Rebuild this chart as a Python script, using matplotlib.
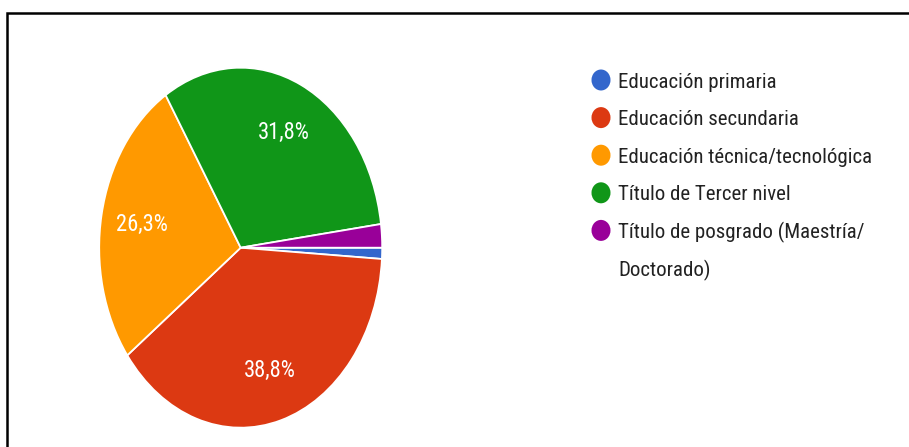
import matplotlib
matplotlib.use("Agg")
import matplotlib.pyplot as plt
from matplotlib import font_manager
from matplotlib.lines import Line2D
from matplotlib.patches import Ellipse

# ---- data ----
categories = ["Educación primaria", "Educación secundaria",
              "Educación técnica/tecnológica", "Título de Tercer nivel",
              "Título de posgrado (Maestría/\nDoctorado)"]
values = [1.0, 38.8, 26.3, 31.8, 2.1]
colors = ["#3366CC", "#DC3912", "#FF9900", "#109618", "#990099"]

# ---- font: prefer a narrow sans (reference text is vertically stretched) ----
names = {f.name for f in font_manager.fontManager.ttflist}
FONT = "Roboto"
for cand in ["Liberation Sans Narrow", "Roboto Condensed", "Open Sans Condensed",
             "DejaVu Sans Condensed", "Roboto"]:
    if cand in names:
        FONT = cand
        break
plt.rcParams["font.family"] = [FONT, "DejaVu Sans"]

W, H = 909, 447
fig = plt.figure(figsize=(W / 100, H / 100), dpi=100)
fig.patch.set_facecolor("white")
renderer = fig.canvas.get_renderer()

def fx(px):
    return px / W

def fy(py):
    return 1 - py / H

def fit_size(s, target_px, base=20):
    t = fig.text(0, 0, s, fontsize=base)
    w = t.get_window_extent(renderer).width
    t.remove()
    return base * target_px / w

legend_fs = fit_size("Educación técnica/tecnológica", 254)
pct_fs = fit_size("31,8%", 52)

# pie axes (stretched vertically like the reference)
cx, cy, rx, ry = 240.7, 247.7, 141.5, 180.0
ax = fig.add_axes([fx(cx - rx), fy(cy + ry), 2 * rx / W, 2 * ry / H])
wedges, texts, autotexts = ax.pie(
    values, colors=colors, startangle=0, counterclock=False,
    autopct=lambda p: (f"{p:.1f}%".replace(".", ",") if p > 5 else ""),
    pctdistance=0.71,
    wedgeprops=dict(edgecolor="white", linewidth=1.3),
    textprops=dict(color="white", fontsize=pct_fs))
ax.set_aspect("auto")
ax.set_xlim(-1, 1)
ax.set_ylim(-1, 1)
ax.axis("off")

# legend (manual, Google style)
mx, tx, y0, step = 601, 618, 80, 37.6
row = 0
for cat, col in zip(categories, colors):
    fig.patches.append(Ellipse((fx(mx), fy(y0 + row * step)), 19 / W, 21 / H,
                               transform=fig.transFigure, facecolor=col,
                               edgecolor="none"))
    for line in cat.split("\n"):
        fig.text(fx(tx), fy(y0 + row * step), line, ha="left",
                 va="center_baseline", fontsize=legend_fs, color="#222222")
        row += 1

# frame lines (top and left)
fig.lines.append(Line2D([fx(7), fx(7), fx(909)], [fy(447), fy(12.5), fy(12.5)],
                        transform=fig.transFigure, color="black",
                        linewidth=1.8, solid_joinstyle="miter"))

fig.savefig("out.png", dpi=100, facecolor="white")
